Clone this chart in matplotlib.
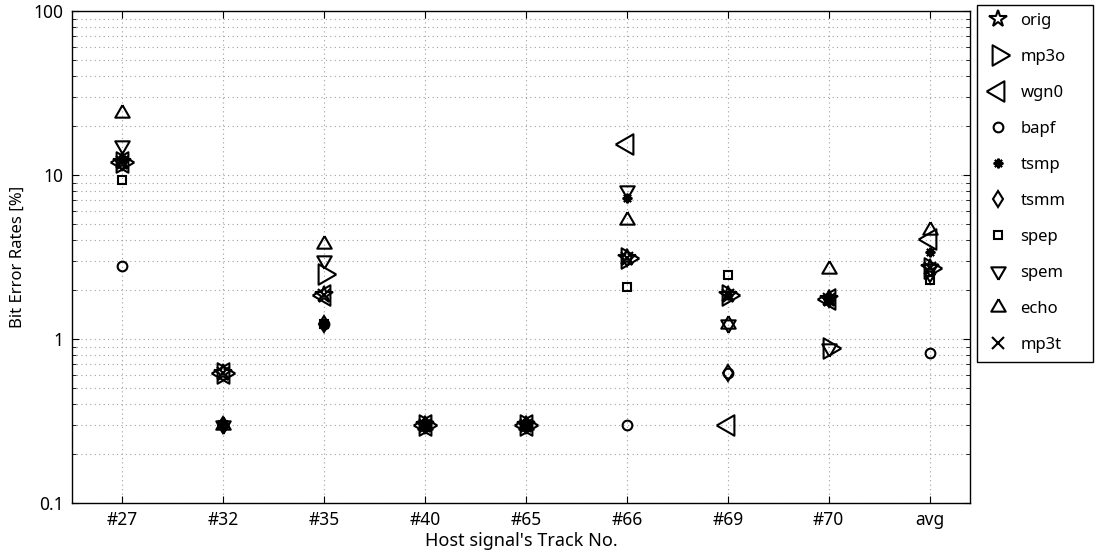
import numpy as np
import matplotlib
matplotlib.use("Agg")
import matplotlib.pyplot as plt
from matplotlib.ticker import LogLocator, NullFormatter

plt.rcParams['font.family'] = ['Noto Sans', 'Noto Sans CJK JP', 'DejaVu Sans']

tracks = ["#27", "#32", "#35", "#40", "#65", "#66", "#69", "#70", "avg"]

orig = [12.0, 0.62, 1.85, 0.3, 0.3, 3.1, 1.85, 1.75, 2.7]
mp3o = [12.0, 0.62, 2.5, 0.3, 0.3, 3.1, 1.85, 0.88, 2.7]
wgn0 = [12.0, 0.62, 1.85, 0.3, 0.3, 15.5, 0.3, 1.75, 4.07]
bapf = [2.79, 0.3, 1.23, 0.3, 0.3, 0.3, 0.62, 1.75, 0.82]
tsmp = [12.5, 0.3, 1.23, 0.3, 0.3, 7.2, 1.85, 1.75, 3.4]
tsmm = [12.0, 0.3, 1.23, 0.3, 0.3, 3.1, 0.62, 1.75, 2.5]
spep = [9.3, 0.3, 1.23, 0.3, 0.3, 2.07, 2.46, 1.75, 2.3]
spem = [15.2, 0.3, 3.03, 0.3, 0.3, 8.1, 1.23, 0.88, 2.7]
echo = [23.9, 0.3, 3.8, 0.3, 0.3, 5.3, 1.23, 2.67, 4.6]
mp3t = [12.0, 0.62, 1.85, 0.3, 0.3, 3.1, 1.85, 1.75, 2.7]


# triangles centred on their centroid (like MATLAB), so < and > overlap as a hexagram
def tri(angle):
    a = np.deg2rad(angle + np.array([0, 120, 240, 0]))
    return list(zip(np.cos(a), np.sin(a)))


series = [
    ("orig", orig, "*", 13),
    ("mp3o", mp3o, tri(0), 17),
    ("wgn0", wgn0, tri(180), 17),
    ("bapf", bapf, "o", 7),
    ("tsmp", tsmp, (8, 2, 0), 7),
    ("tsmm", tsmm, "d", 8),
    ("spep", spep, "s", 6),
    ("spem", spem, tri(270), 12),
    ("echo", echo, tri(90), 12),
    ("mp3t", mp3t, "x", 8),
]

fig = plt.figure(figsize=(10.96, 5.52), dpi=100)
ax = fig.add_axes([0.0657, 0.0888, 0.8193, 0.8912])

x = np.arange(1, len(tracks) + 1)
for name, vals, m, ms in series:
    ax.plot(x, vals, linestyle="none", marker=m, markersize=ms,
            markerfacecolor="none", markeredgecolor="black",
            markeredgewidth=1.5, color="black", label=name)

ax.set_yscale("log")
ax.set_ylim(0.1, 100)
ax.set_xlim(0.5, 9.4)
ax.set_xticks(x)
ax.set_xticklabels(tracks)
ax.set_yticks([0.1, 1, 10, 100])
ax.set_yticklabels(["0.1", "1", "10", "100"])
ax.yaxis.set_minor_locator(LogLocator(base=10, subs=np.arange(2, 10)))
ax.yaxis.set_minor_formatter(NullFormatter())

ax.grid(True, which="major", linestyle=(0, (1, 3)), color="#a0a0a0", linewidth=0.8)
ax.grid(True, which="minor", axis="y", linestyle=(0, (1, 3)), color="#a0a0a0", linewidth=0.8)
ax.tick_params(direction="in", which="both", top=True, right=True, labelsize=12.5)
ax.tick_params(which="major", length=5, pad=6)
ax.tick_params(which="minor", length=3)
for s in ax.spines.values():
    s.set_linewidth(1.0)

ax.set_xlabel("Host signal's Track No.", fontsize=13, labelpad=2)
ax.set_ylabel("Bit Error Rates [%]", fontsize=12, labelpad=6)

leg = fig.legend(loc="upper left",
                 bbox_to_anchor=(977 / 1096, 1 - 362 / 552, 116 / 1096, 357 / 552),
                 mode="expand", fontsize=12, labelspacing=1.2, handlelength=1.5,
                 handletextpad=0.6, borderpad=0.5, borderaxespad=0,
                 fancybox=False, edgecolor="black", framealpha=1)
leg.get_frame().set_linewidth(1.0)

fig.savefig("out.png", dpi=100)
